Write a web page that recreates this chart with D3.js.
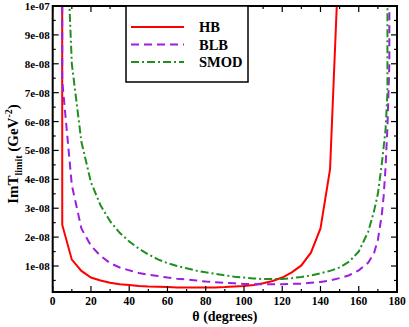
<!DOCTYPE html>
<html>
<head>
<meta charset="utf-8">
<script src="https://cdn.jsdelivr.net/npm/d3@7"></script>
<style>
  body { margin: 0; background: #fff; }
  text { font-family: "Liberation Serif", "DejaVu Serif", serif; font-weight: bold; }
</style>
</head>
<body>
<div id="chart"></div>
<script>
// theta in degrees, ImT_limit in GeV^-2 (huge values at the ends are clipped)
const hbTheta = [0, 5, 10, 15, 20, 25, 30, 35, 40, 45, 50, 55, 60, 65, 70, 75, 80, 85, 90,
  95, 100, 105, 110, 115, 120, 125, 130, 135, 140, 145, 150];
const hbVal = [1e-5, 2.42e-8, 1.22e-8, 0.83e-8, 0.6e-8, 0.5e-8, 0.42e-8, 0.37e-8, 0.34e-8, 0.31e-8,
  0.29e-8, 0.28e-8, 0.27e-8, 0.26e-8, 0.26e-8, 0.26e-8, 0.26e-8, 0.26e-8, 0.27e-8,
  0.29e-8, 0.31e-8, 0.34e-8, 0.4e-8, 0.48e-8, 0.6e-8, 0.78e-8, 1.02e-8, 1.46e-8, 2.3e-8, 4.35e-8, 1.24e-7];

const blbTheta = [0, 5, 10, 15, 20, 25, 30, 35, 40, 45, 50, 55, 60, 65, 70, 75, 80, 85, 90,
  95, 100, 105, 110, 115, 120, 125, 130, 135, 140, 145, 150, 155, 160, 165, 168, 170, 172, 173, 174, 175, 176, 180];
const blbVal = [1e-5, 7.4e-8, 3.8e-8, 2.3e-8, 1.7e-8, 1.35e-8, 1.1e-8, 0.95e-8, 0.85e-8, 0.76e-8,
  0.7e-8, 0.65e-8, 0.6e-8, 0.56e-8, 0.53e-8, 0.5e-8, 0.46e-8, 0.44e-8, 0.42e-8,
  0.4e-8, 0.38e-8, 0.37e-8, 0.37e-8, 0.37e-8, 0.37e-8, 0.38e-8, 0.39e-8, 0.42e-8, 0.45e-8, 0.5e-8,
  0.58e-8, 0.68e-8, 0.85e-8, 1.12e-8, 1.45e-8, 1.9e-8, 2.75e-8, 3.4e-8, 4.4e-8, 5.8e-8, 8e-8, 1e-5];

const smodTheta = [0, 5, 10, 15, 20, 25, 30, 35, 40, 45, 50, 55, 60, 65, 70, 75, 80, 85, 90,
  95, 100, 105, 110, 115, 120, 125, 130, 135, 140, 145, 150, 155, 160, 165, 168, 170, 172, 174, 175, 180];
const smodVal = [1e-5, 1.6e-7, 8.0e-8, 5.3e-8, 3.9e-8, 3.1e-8, 2.55e-8, 2.15e-8, 1.85e-8, 1.6e-8,
  1.4e-8, 1.23e-8, 1.1e-8, 1.0e-8, 0.92e-8, 0.84e-8, 0.78e-8, 0.73e-8, 0.68e-8,
  0.63e-8, 0.6e-8, 0.57e-8, 0.55e-8, 0.55e-8, 0.55e-8, 0.58e-8, 0.62e-8, 0.67e-8, 0.75e-8, 0.83e-8,
  0.95e-8, 1.15e-8, 1.5e-8, 2.2e-8, 2.9e-8, 3.5e-8, 4.5e-8, 5.7e-8, 7.0e-8, 1e-5];

const xTicks = [0, 20, 40, 60, 80, 100, 120, 140, 160, 180];
const yTicks = [1e-8, 2e-8, 3e-8, 4e-8, 5e-8, 6e-8, 7e-8, 8e-8, 9e-8, 1e-7];
const yTickLabels = ["1e-08", "2e-08", "3e-08", "4e-08", "5e-08", "6e-08", "7e-08", "8e-08", "9e-08", "1e-07"];

const series = [
  {name: "HB", theta: hbTheta, val: hbVal, color: "#ff0000", dash: null},
  {name: "BLB", theta: blbTheta, val: blbVal, color: "#9b1fe0", dash: "8,5"},
  {name: "SMOD", theta: smodTheta, val: smodVal, color: "#1f8f1f", dash: "8,3,2,3"}
];

const width = 409, height = 327;
const mLeft = 52.7, mRight = 397, mTop = 6, mBottom = 292;

const svg = d3.select("#chart").append("svg")
  .attr("width", width)
  .attr("height", height);

const x = d3.scaleLinear().domain([0, 180]).range([mLeft, mRight]);
const y = d3.scaleLinear().domain([1e-9, 1e-7]).range([mBottom, mTop]);

svg.append("clipPath").attr("id", "clip")
  .append("rect")
  .attr("x", mLeft).attr("y", mTop)
  .attr("width", mRight - mLeft).attr("height", mBottom - mTop);

// curves
const line = d3.line()
  .x(d => x(d[0]))
  .y(d => y(d[1]));

const curves = svg.append("g").attr("clip-path", "url(#clip)");
series.forEach(s => {
  curves.append("path")
    .datum(s.theta.map((t, i) => [t, s.val[i]]))
    .attr("fill", "none")
    .attr("stroke", s.color)
    .attr("stroke-width", 2)
    .attr("stroke-dasharray", s.dash)
    .attr("d", line);
});

// ticks, all pointing inwards
const xMinor = d3.range(10, 180, 20);
const yMinor = d3.range(0.5e-8, 1e-7, 1e-8);
const tickG = svg.append("g").attr("stroke", "#000").attr("stroke-width", 1.2);

xTicks.concat(xMinor).forEach(t => {
  const len = xTicks.includes(t) ? 6 : 3;
  tickG.append("line").attr("x1", x(t)).attr("x2", x(t)).attr("y1", mBottom).attr("y2", mBottom - len);
  tickG.append("line").attr("x1", x(t)).attr("x2", x(t)).attr("y1", mTop).attr("y2", mTop + len);
});
yTicks.concat(yMinor).forEach(t => {
  const len = yTicks.includes(t) ? 6 : 3;
  tickG.append("line").attr("y1", y(t)).attr("y2", y(t)).attr("x1", mLeft).attr("x2", mLeft + len);
  tickG.append("line").attr("y1", y(t)).attr("y2", y(t)).attr("x1", mRight).attr("x2", mRight - len);
});

// frame
svg.append("rect")
  .attr("x", mLeft).attr("y", mTop)
  .attr("width", mRight - mLeft).attr("height", mBottom - mTop)
  .attr("fill", "none")
  .attr("stroke", "#000")
  .attr("stroke-width", 2);

// tick labels
svg.append("g").selectAll("text")
  .data(xTicks)
  .enter().append("text")
  .attr("x", d => x(d))
  .attr("y", mBottom + 13)
  .attr("text-anchor", "middle")
  .style("font-size", "11.5px")
  .text(d => d);

svg.append("g").selectAll("text")
  .data(yTicks)
  .enter().append("text")
  .attr("x", mLeft - 3)
  .attr("y", d => y(d) + 4)
  .attr("text-anchor", "end")
  .style("font-size", "11px")
  .text((d, i) => yTickLabels[i]);

// axis titles
svg.append("text")
  .attr("x", (mLeft + mRight) / 2)
  .attr("y", 321)
  .attr("text-anchor", "middle")
  .style("font-size", "14px")
  .text("θ (degrees)");

const yTitle = svg.append("text")
  .attr("transform", "translate(18," + 154 + ") rotate(-90)")
  .attr("text-anchor", "middle")
  .style("font-size", "15px");
yTitle.append("tspan").text("ImT");
yTitle.append("tspan").attr("dy", 4).style("font-size", "10px").text("limit");
yTitle.append("tspan").attr("dy", -4).text(" (GeV");
yTitle.append("tspan").attr("dy", -6).style("font-size", "10px").text("-2");
yTitle.append("tspan").attr("dy", 6).text(")");

// legend
const legend = svg.append("g");
legend.append("rect")
  .attr("x", 126).attr("y", 6)
  .attr("width", 122).attr("height", 76)
  .attr("fill", "#fff")
  .attr("stroke", "#000")
  .attr("stroke-width", 1.5);

series.forEach((s, i) => {
  const ly = 27 + i * 17.5;
  legend.append("line")
    .attr("x1", 131).attr("x2", 184)
    .attr("y1", ly).attr("y2", ly)
    .attr("stroke", s.color)
    .attr("stroke-width", 2)
    .attr("stroke-dasharray", s.dash);
  legend.append("text")
    .attr("x", 199)
    .attr("y", ly + 5)
    .style("font-size", "14.5px")
    .text(s.name);
});
</script>
</body>
</html>
